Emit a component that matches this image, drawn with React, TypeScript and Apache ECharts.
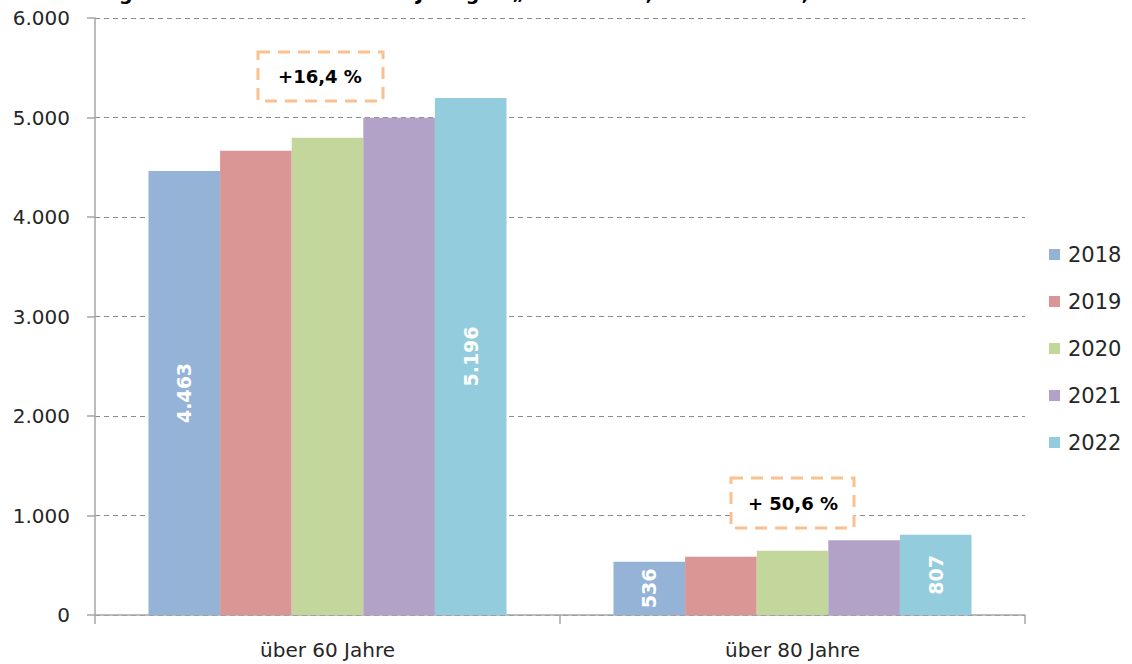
import React, { useEffect, useRef } from "react";
import * as echarts from "echarts";

const categories = ["über 60 Jahre", "über 80 Jahre"];
const years = ["2018", "2019", "2020", "2021", "2022"];
const values2018 = [4463, 536];
const values2019 = [4666, 586];
const values2020 = [4797, 646];
const values2021 = [4998, 751];
const values2022 = [5196, 807];
const seriesValues = [values2018, values2019, values2020, values2021, values2022];
const colors = ["#95B3D7", "#D99694", "#C3D69B", "#B2A2C7", "#93CDDD"];
const labelledYears = ["2018", "2022"];
const yTicks = { min: 0, max: 6000, interval: 1000 };
const titleText = "Entwicklung der über 60- und über 80-Jährigen „Ausländer“, Kreis Viersen, 2018 bis 2022";
const growthLabels = ["+16,4 %", "+ 50,6 %"];

const FONT = "DejaVu Sans";
const fmt = (v: number) => String(v).replace(/\B(?=(\d{3})+(?!\d))/g, ".");

export default function App() {
  const ref = useRef<HTMLDivElement>(null);
  useEffect(() => {
    if (!ref.current) return;
    const chart = echarts.init(ref.current, null, { renderer: "svg" });
    const boxStyle = { fill: "#FFFFFF", stroke: "#FAC090", lineWidth: 3, lineDash: [12, 8] };
    chart.setOption({
      animation: false,
      textStyle: { fontFamily: FONT },
      grid: { left: 95, right: 107, top: 18, bottom: 49, containLabel: false },
      legend: {
        orient: "vertical",
        left: 1044,
        top: 239,
        itemWidth: 11,
        itemHeight: 11,
        itemGap: 26,
        icon: "rect",
        data: years,
        textStyle: { fontFamily: FONT, fontSize: 21, color: "#262626", lineHeight: 20, padding: [0, 0, 0, 3] },
      },
      xAxis: {
        type: "category",
        data: categories,
        axisLine: { lineStyle: { color: "#A6A6A6", width: 1.5 } },
        axisTick: { show: true, length: 9, lineStyle: { color: "#A6A6A6", width: 1.5 } },
        axisLabel: { fontFamily: FONT, fontSize: 20, color: "#262626", margin: 25 },
      },
      yAxis: {
        type: "value",
        min: yTicks.min,
        max: yTicks.max,
        interval: yTicks.interval,
        axisLine: { show: true, lineStyle: { color: "#A6A6A6", width: 1.5 } },
        axisTick: { show: true, length: 8, lineStyle: { color: "#A6A6A6", width: 1.5 } },
        axisLabel: { fontFamily: FONT, fontSize: 20, color: "#262626", margin: 25, formatter: (v: number) => fmt(v) },
        splitLine: { show: true, lineStyle: { color: "#8C8C8C", type: [5, 4], width: 1.2 } },
      },
      series: years.map((y, i) => ({
        name: y,
        type: "bar",
        data: seriesValues[i],
        barGap: "0%",
        barCategoryGap: "23%",
        itemStyle: { color: colors[i] },
        label: {
          show: labelledYears.includes(y),
          position: "inside",
          rotate: 90,
          color: "#FFFFFF",
          fontFamily: FONT,
          fontWeight: "bold",
          fontSize: 19,
          formatter: (p: any) => fmt(p.value),
        },
      })),
      graphic: [
        {
          type: "text",
          left: 2,
          top: -17,
          style: { text: titleText, fontFamily: FONT, fontSize: 19, fontWeight: "bold", fill: "#000000" },
        },
        { type: "rect", shape: { x: 258, y: 52, width: 125, height: 49 }, style: boxStyle, z: 10 },
        {
          type: "text",
          x: 320,
          y: 76,
          z: 11,
          style: { text: growthLabels[0], align: "center", verticalAlign: "middle", fontFamily: FONT, fontSize: 18, fontWeight: "bold", fill: "#000000" },
        },
        { type: "rect", shape: { x: 731, y: 478, width: 123, height: 50 }, style: boxStyle, z: 10 },
        {
          type: "text",
          x: 793,
          y: 503,
          z: 11,
          style: { text: growthLabels[1], align: "center", verticalAlign: "middle", fontFamily: FONT, fontSize: 18, fontWeight: "bold", fill: "#000000" },
        },
      ],
    });
    return () => chart.dispose();
  }, []);
  return <div ref={ref} style={{ position: "fixed", left: 0, top: 0, width: 1132, height: 664, background: "#fff" }} />;
}
